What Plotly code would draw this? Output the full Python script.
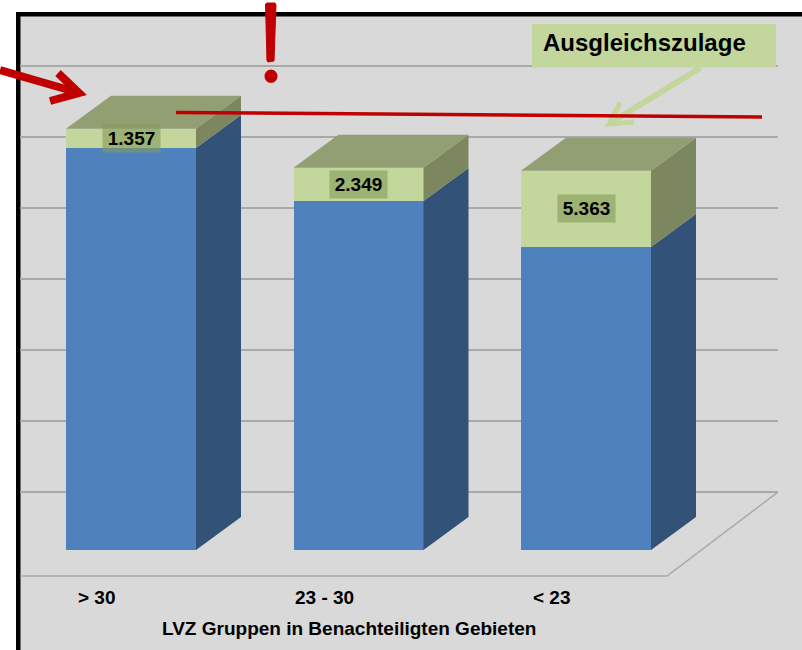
import plotly.graph_objects as go

categories = ["> 30", "23 - 30", "< 23"]
positions = [0, 1, 2]
grundbetrag = [28310, 24577, 21338]
ausgleichszulage = [1357, 2349, 5363]
value_labels = ["1.357", "2.349", "5.363"]
grid_values = [0, 5000, 10000, 15000, 20000, 25000, 30000]
axis_title = "LVZ Gruppen in Benachteiligten Gebieten"
legend_text = "Ausgleichszulage"

W, H = 802, 650
L, R, T = 20, 778, 16
X0, XU = 131, 227.5      # pixel of category 0, pixels per category
Y0, YU = 550, 0.0142     # pixel of value 0, pixels per value unit
BAR_W = 130 / XU
DX, DY = 45 / XU, 33 / YU
WALL = 58 / YU

BLUE, BLUE_SIDE = "#4f81bd", "#325278"
GREEN, GREEN_SIDE, GREEN_TOP = "#c3d69b", "#7c8760", "#919f72"
RED = "#c00000"
GRID = "#a9a9a9"
BG = "#d9d9d9"
FONT = "Liberation Sans"


def px(x):
    return (x - L) / (R - L)


def py(y):
    return (H - y) / (H - T)


fig = go.Figure()

fig.add_bar(x=positions, y=grundbetrag, width=BAR_W, marker=dict(color=BLUE, line_width=0), name="Grundbetrag")
fig.add_bar(x=positions, y=ausgleichszulage, width=BAR_W, marker=dict(color=GREEN, line_width=0), name="Ausgleichszulage")


def face(xs, ys, color):
    fig.add_scatter(x=xs, y=ys, mode="lines", fill="toself", fillcolor=color,
                    line=dict(width=0, color=color), hoverinfo="skip")


# floor outline
floor_left, floor_right = (L - X0) / XU, (667 - X0) / XU
floor_front = -26 / YU
fig.add_scatter(x=[floor_left, floor_right, floor_right + 111 / XU],
                y=[floor_front, floor_front, WALL], mode="lines",
                line=dict(color=GRID, width=1.5), hoverinfo="skip")

# 3D side and top faces, derived from the values
for p, b, a in zip(positions, grundbetrag, ausgleichszulage):
    r = p + BAR_W / 2
    l = p - BAR_W / 2
    top = b + a
    face([r, r + DX, r + DX, r, r], [0, DY, b + DY, b, 0], BLUE_SIDE)
    face([r, r + DX, r + DX, r, r], [b, b + DY, top + DY, top, b], GREEN_SIDE)
    face([l, r, r + DX, l + DX, l], [top, top, top + DY, top + DY, top], GREEN_TOP)

annotations = []
for p, b, a, t in zip(positions, grundbetrag, ausgleichszulage, value_labels):
    annotations.append(dict(x=p, y=b + a / 2, text=f"<b>{t}</b>", showarrow=False,
                            width=55, height=25, bgcolor="rgba(130,155,90,0.6)",
                            font=dict(family=FONT, size=19, color="#000000")))
for p, c in zip(positions, categories):
    annotations.append(dict(x=p, y=-47 / YU, text=f"<b>{c}</b>".replace("<b>>", "<b>&gt;").replace("<b><", "<b>&lt;"),
                            xshift=-34, showarrow=False, xanchor="center", yanchor="middle",
                            font=dict(family=FONT, size=19, color="#000000")))
annotations.append(dict(xref="paper", yref="paper", x=px(349), y=py(628), text=f"<b>{axis_title}</b>",
                        xanchor="center", yanchor="middle",
                        showarrow=False, font=dict(family=FONT, size=19, color="#000000")))
annotations.append(dict(xref="paper", yref="paper", x=px(644.5), y=py(43), text=f"<b>{legend_text}</b>",
                        xanchor="center", yanchor="middle",
                        showarrow=False, font=dict(family=FONT, size=24, color="#000000")))


def rect(x0, y0, x1, y1, color, layer="below"):
    return dict(type="rect", xref="paper", yref="paper", x0=px(x0), x1=px(x1), y0=py(y0), y1=py(y1),
                fillcolor=color, line_width=0, layer=layer)


def seg(pts, color, width):
    d = "M" + " L".join(f"{px(x):.5f},{py(y):.5f}" for x, y in pts)
    return dict(type="path", xref="paper", yref="paper", path=d, layer="above",
                line=dict(color=color, width=width))


shapes = [
    rect(0, 0, W, 12, "#ffffff"),
    rect(0, 0, 16, H, "#ffffff"),
    rect(16, 12, W, 16.5, "#000000"),
    rect(16, 12, 20.5, H, "#000000"),
    # callout box and arrow
    rect(532, 24, 776, 67.5, GREEN, "above"),
    seg([(700, 68), (612, 122)], GREEN, 6),
    seg([(620, 103), (609, 124), (634, 122)], GREEN, 5),
    # red highlight line
    seg([(176, 112.5), (762, 117)], RED, 3.5),
    # red arrow
    seg([(0, 70), (76, 92)], RED, 8),
    seg([(58, 73), (79, 93), (50, 101)], RED, 8),
    # exclamation mark
    dict(type="path", xref="paper", yref="paper", layer="above", fillcolor=RED,
         line=dict(color=RED, width=1),
         path="M" + " L".join(f"{px(x):.5f},{py(y):.5f}" for x, y in
                              [(265.5, 4), (267, 3), (275, 3), (276, 5), (274, 61), (268, 62), (267, 61)]) + " Z"),
    dict(type="circle", xref="paper", yref="paper", layer="above", fillcolor=RED, line_width=0,
         x0=px(264.5), x1=px(277.5), y0=py(83), y1=py(69.5)),
]

fig.update_layout(
    width=W, height=H,
    margin=dict(l=L, r=W - R, t=T, b=0, pad=0),
    barmode="stack", bargap=0,
    showlegend=False,
    paper_bgcolor=BG, plot_bgcolor=BG,
    xaxis=dict(range=[(L - X0) / XU, (R - X0) / XU], showgrid=False, zeroline=False,
               showticklabels=False, ticks="", showline=False),
    yaxis=dict(range=[(Y0 - H) / YU, (Y0 - T) / YU], tickmode="array",
               tickvals=[g + WALL for g in grid_values], showticklabels=False, ticks="",
               showgrid=True, gridcolor=GRID, gridwidth=1.5, zeroline=False, showline=False),
    annotations=annotations,
    shapes=shapes,
)

fig.write_html("out.html", config=dict(displayModeBar=False),
               post_script="document.body.style.margin='0';document.body.style.overflow='hidden';")
